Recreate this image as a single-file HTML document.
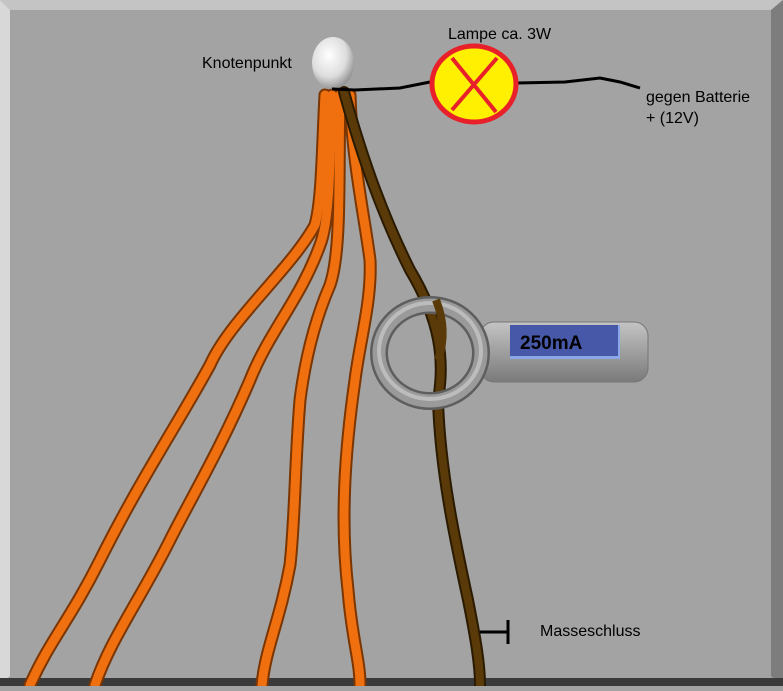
<!DOCTYPE html>
<html><head><style>html,body{margin:0;padding:0;}body{width:783px;height:686px;overflow:hidden;background:#a3a3a3;}</style></head>
<body>
<svg width="783" height="686" viewBox="0 0 783 686" xmlns="http://www.w3.org/2000/svg">
<defs>
<radialGradient id="ball" cx="40%" cy="35%" r="70%"><stop offset="0" stop-color="#fff"/><stop offset="0.6" stop-color="#ddd"/><stop offset="1" stop-color="#888"/></radialGradient>
<linearGradient id="hand" x1="0" y1="0" x2="0" y2="1"><stop offset="0" stop-color="#c4c4c4"/><stop offset="1" stop-color="#7a7a7a"/></linearGradient>
</defs>
<rect width="783" height="686" fill="#a3a3a3"/>
<polygon points="0,0 783,0 771,10 10,10" fill="#c4c4c4"/>
<polygon points="0,0 10,10 10,676 0,686" fill="#d8d8d8"/>
<polygon points="783,0 783,686 771,676 771,10" fill="#7d7d7d"/>
<rect x="0" y="678" width="783" height="8" fill="#3a3a3a"/>
<g fill="none" stroke-linecap="round">
<g stroke="#7a3500" stroke-width="13">
<path d="M325,95 C322,150 322,200 315,225 C290,270 230,320 210,365 C180,420 140,480 100,560 C70,620 50,640 30,685"/>
<path d="M332,95 C330,160 330,220 320,245 C300,300 270,330 250,380 C220,450 190,500 170,540 C140,600 110,640 95,685"/>
<path d="M340,95 C338,170 342,250 330,285 C315,320 305,360 300,400 C295,460 295,520 290,565 C280,620 265,650 262,685"/>
<path d="M350,95 C352,160 365,220 370,260 C372,300 360,340 355,380 C345,450 340,520 348,590 C352,640 360,660 360,685"/>
</g>
<g stroke="#f07010" stroke-width="9">
<path d="M325,95 C322,150 322,200 315,225 C290,270 230,320 210,365 C180,420 140,480 100,560 C70,620 50,640 30,685"/>
<path d="M332,95 C330,160 330,220 320,245 C300,300 270,330 250,380 C220,450 190,500 170,540 C140,600 110,640 95,685"/>
<path d="M340,95 C338,170 342,250 330,285 C315,320 305,360 300,400 C295,460 295,520 290,565 C280,620 265,650 262,685"/>
<path d="M350,95 C352,160 365,220 370,260 C372,300 360,340 355,380 C345,450 340,520 348,590 C352,640 360,660 360,685"/>
</g>
<path d="M344,92 C360,150 380,210 410,270 C440,320 445,360 438,400 C440,470 455,540 468,600 C476,640 480,665 480,685" stroke="#2a1a00" stroke-width="12"/>
<path d="M344,92 C360,150 380,210 410,270 C440,320 445,360 438,400 C440,470 455,540 468,600 C476,640 480,665 480,685" stroke="#5a3a08" stroke-width="8"/>
</g>
<ellipse cx="333" cy="63" rx="21" ry="26" fill="url(#ball)"/>
<path d="M332,89 L355,90 L400,88 L430,82 M517,83 L565,82 L600,78 L620,82 L640,88" fill="none" stroke="#000" stroke-width="3"/>
<ellipse cx="474" cy="84" rx="42" ry="38" fill="#ffef00" stroke="#e8202a" stroke-width="5"/>
<path d="M452,58 L496,112 M497,58 L452,110" stroke="#e8202a" stroke-width="4"/>
<rect x="480" y="322" width="168" height="60" rx="14" fill="url(#hand)" stroke="#777" stroke-width="1"/>
<rect x="510" y="325" width="110" height="34" fill="#8aa8e8"/>
<rect x="510" y="325" width="108" height="31" fill="#4858a8"/>
<text x="520" y="349" font-family="Liberation Sans, sans-serif" font-size="19" font-weight="bold" fill="#000">250mA</text>
<ellipse cx="430" cy="353" rx="51" ry="48" fill="none" stroke="#5e5e5e" stroke-width="18"/>
<ellipse cx="430" cy="353" rx="51" ry="48" fill="none" stroke="#9a9a9a" stroke-width="13"/>
<ellipse cx="430" cy="351" rx="51" ry="48" fill="none" stroke="#bcbcbc" stroke-width="4"/>
<path d="M436,300 C444,320 445,340 438,360" fill="none" stroke="#5a3a08" stroke-width="8"/>
<path d="M480,632 L508,632 M508,620 L508,644" stroke="#000" stroke-width="3"/>
<g font-family="Liberation Sans, sans-serif" font-size="16" fill="#000">
<text x="202" y="68">Knotenpunkt</text>
<text x="448" y="39">Lampe ca. 3W</text>
<text x="646" y="102">gegen Batterie</text>
<text x="646" y="123">+ (12V)</text>
<text x="540" y="636">Masseschluss</text>
</g>
</svg>
</body></html>
